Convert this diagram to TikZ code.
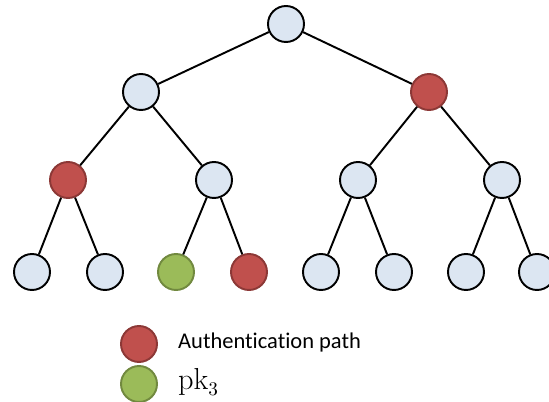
\documentclass[tikz,border=0pt]{standalone}
\usepackage[no-math]{fontspec}
\setmainfont[Ligatures=NoCommon]{Carlito}
\usepackage{xcolor}
\definecolor{hashblue}{HTML}{DCE6F2}
\definecolor{authred}{HTML}{C0504D}
\definecolor{authredline}{HTML}{8C3836}
\definecolor{leafgreen}{HTML}{9BBB59}
\definecolor{leafgreenline}{HTML}{71893F}

\begin{document}
\begin{tikzpicture}[x=0.02cm, y=-0.02cm]
    % styles
    \tikzset{
      hashnode/.style  = {circle, minimum size=0.72cm, inner sep=0pt, line width=1.1pt, draw=black, fill=hashblue},
      authnode/.style  = {hashnode, draw=authredline, fill=authred},
      keynode/.style   = {hashnode, draw=leafgreenline, fill=leafgreen},
      treeedge/.style  = {line width=1.1pt, draw=black},
      legendtext/.style = {anchor=west, font=\fontsize{12.8}{15}\selectfont}
    }
    \useasboundingbox (0,0) rectangle (549,402);

    % Root and first level:
    \node[hashnode] (root) at (286,24) {};
    \node[hashnode] (n0)   at (141,92) {};
    \node[authnode] (n1)   at (429,92) {};

    % Second level:
    \node[authnode] (n00) at (68,180)  {};
    \node[hashnode] (n01) at (214,180) {};
    \node[hashnode] (n10) at (358,180) {};
    \node[hashnode] (n11) at (502,180) {};

    % Leaves:
    \node[hashnode] (l0) at (32,272)  {};
    \node[hashnode] (l1) at (105,272) {};
    \node[keynode]  (l2) at (176,272) {};
    \node[authnode] (l3) at (249,272) {};
    \node[hashnode] (l4) at (321,272) {};
    \node[hashnode] (l5) at (394,272) {};
    \node[hashnode] (l6) at (466,272) {};
    \node[hashnode] (l7) at (537,272) {};

    % Edges:
    \draw[treeedge] (root) -- (n0);
    \draw[treeedge] (root) -- (n1);
    \draw[treeedge] (n0) -- (n00);
    \draw[treeedge] (n0) -- (n01);
    \draw[treeedge] (n1) -- (n10);
    \draw[treeedge] (n1) -- (n11);
    \draw[treeedge] (n00) -- (l0);
    \draw[treeedge] (n00) -- (l1);
    \draw[treeedge] (n01) -- (l2);
    \draw[treeedge] (n01) -- (l3);
    \draw[treeedge] (n10) -- (l4);
    \draw[treeedge] (n10) -- (l5);
    \draw[treeedge] (n11) -- (l6);
    \draw[treeedge] (n11) -- (l7);

    % Legend:
    \node[authnode] (keyauth) at (139,344) {};
    \node[keynode]  (keypk)   at (139,384) {};
    \node[legendtext] (authlabel) at (172,343) {Authentication path};
    \node[legendtext, font=\fontsize{16}{18}\selectfont] (pklabel) at (172,382) {$\mathrm{pk}_3$};
\end{tikzpicture}
\end{document}
